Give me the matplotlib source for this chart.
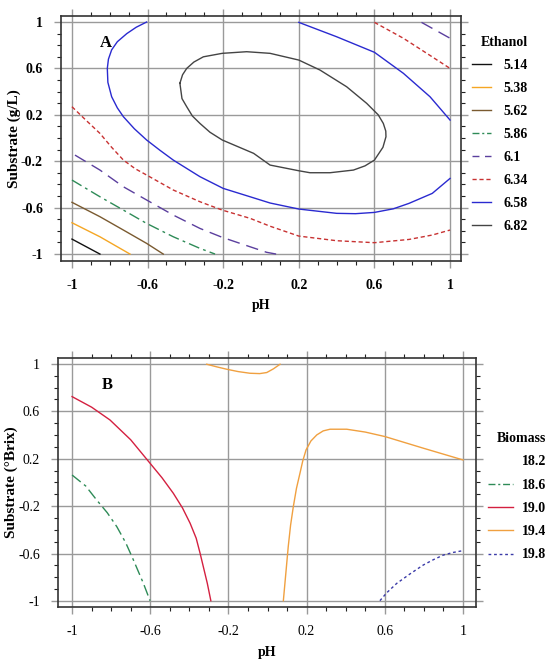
import matplotlib
matplotlib.use("Agg")
import matplotlib.pyplot as plt
from matplotlib.lines import Line2D
from matplotlib.ticker import MultipleLocator, FixedLocator

plt.rcParams['font.family'] = ['Liberation Serif', 'DejaVu Serif']

# ---------------- Data: Panel A (Ethanol) ----------------
eth_levels = ['5.14', '5.38', '5.62', '5.86', '6.1', '6.34', '6.58', '6.82']

a514_x = [-1.0, -0.852]
a514_y = [-0.871, -1.0]
a538_x = [-1.0, -0.852, -0.693]
a538_y = [-0.73, -0.851, -1.0]
a562_x = [-1.0, -0.852, -0.728, -0.605, -0.517]
a562_y = [-0.554, -0.678, -0.793, -0.908, -1.0]
a586_x = [-1.0, -0.852, -0.728, -0.605, -0.464, -0.323, -0.243]
a586_y = [-0.362, -0.506, -0.621, -0.736, -0.851, -0.951, -1.0]
a610_x = [-0.984, -0.852, -0.728, -0.605, -0.464, -0.323, -0.205, -0.058, 0.03, 0.08]
a610_y = [-0.147, -0.276, -0.42, -0.534, -0.664, -0.779, -0.856, -0.937, -0.985, -1.0]
a610b_x = [0.849, 1.0]
a610b_y = [0.997, 0.86]
a634_x = [-1.0, -0.93, -0.852, -0.79, -0.728, -0.665, -0.605, -0.464, -0.323, -0.205, -0.058, 0.048, 0.2, 0.4,
          0.6, 0.783, 0.906, 1.0]
a634_y = [0.27, 0.16, 0.04, -0.08, -0.19, -0.265, -0.319, -0.448, -0.549, -0.621, -0.692, -0.76, -0.845, -0.885,
          -0.902, -0.874, -0.836, -0.793]
a634b_x = [0.6, 0.753, 0.877, 1.0]
a634b_y = [0.997, 0.86, 0.73, 0.6]
a658_x = [-0.605, -0.66, -0.71, -0.76, -0.79, -0.807, -0.813, -0.81, -0.79, -0.76, -0.728, -0.67, -0.605,
          -0.535, -0.464, -0.323, -0.2, -0.058, 0.048, 0.2, 0.4, 0.5, 0.6, 0.7, 0.783, 0.906, 1.0]
a658_y = [1.0, 0.955, 0.9, 0.83, 0.76, 0.68, 0.6, 0.48, 0.356, 0.26, 0.184, 0.08, -0.017,
          -0.105, -0.19, -0.333, -0.434, -0.506, -0.56, -0.612, -0.649, -0.652, -0.641, -0.61, -0.563, -0.477, -0.348]
a658b_x = [0.2, 0.4, 0.6, 0.753, 0.894, 1.0]
a658b_y = [0.997, 0.873, 0.739, 0.558, 0.356, 0.155]
a682_x = [-0.429, -0.415, -0.393, -0.355, -0.305, -0.205, -0.076, 0.048, 0.2, 0.312, 0.453, 0.559, 0.62, 0.647,
          0.66, 0.661, 0.645, 0.6, 0.55, 0.489, 0.365, 0.259, 0.2, 0.048, -0.039, -0.205, -0.27, -0.323, -0.363,
          -0.393, -0.418, -0.429]
a682_y = [0.472, 0.545, 0.6, 0.655, 0.7, 0.73, 0.744, 0.73, 0.672, 0.586, 0.442, 0.299, 0.2, 0.126,
          0.06, 0.011, -0.08, -0.19, -0.24, -0.276, -0.299, -0.299, -0.282, -0.233, -0.132, -0.017, 0.05, 0.126,
          0.19, 0.27, 0.34, 0.472]

# ---------------- Data: Panel B (Biomass) ----------------
bio_levels = ['18.2', '18.6', '19.0', '19.4', '19.8']

b186_x = [-1.0, -0.93, -0.874, -0.82, -0.771, -0.725, -0.686, -0.635, -0.601]
b186_y = [0.063, -0.03, -0.148, -0.255, -0.373, -0.51, -0.654, -0.851, -0.997]
b190_x = [-1.0, -0.9, -0.806, -0.7, -0.601, -0.54, -0.482, -0.435, -0.396, -0.365, -0.345, -0.308, -0.29]
b190_y = [0.724, 0.635, 0.527, 0.36, 0.162, 0.04, -0.091, -0.215, -0.344, -0.47, -0.597, -0.851, -0.997]
b194_x = [0.081, 0.094, 0.106, 0.118, 0.132, 0.148, 0.166, 0.18, 0.197, 0.222, 0.252, 0.285, 0.32, 0.405,
          0.5, 0.601, 0.797, 1.0]
b194_y = [-0.997, -0.76, -0.541, -0.36, -0.204, -0.05, 0.078, 0.18, 0.274, 0.35, 0.401, 0.435, 0.449, 0.449,
          0.425, 0.387, 0.289, 0.19]
b194b_x = [-0.311, -0.26, -0.209, -0.15, -0.09, -0.04, -0.004, 0.03, 0.064]
b194b_y = [0.997, 0.975, 0.955, 0.935, 0.921, 0.918, 0.927, 0.958, 0.997]
b198_x = [0.575, 0.61, 0.661, 0.73, 0.797, 0.85, 0.9, 0.95, 1.0]
b198_y = [-0.997, -0.93, -0.851, -0.77, -0.696, -0.65, -0.612, -0.59, -0.575]

ticks = [-1, -0.6, -0.2, 0.2, 0.6, 1]
tick_labels = ['-1', '-0.6', '-0.2', '0.2', '0.6', '1']

# ---------------- Figure ----------------
fig = plt.figure(figsize=(5.47, 6.63), dpi=100)
axA = fig.add_axes([0.1115, 0.6063, 0.7313, 0.3696])
axB = fig.add_axes([0.106, 0.0845, 0.764, 0.3756])

def style_axes(ax, xlim, ylim, bold):
    ax.set_xlim(*xlim)
    ax.set_ylim(*ylim)
    ax.xaxis.set_major_locator(FixedLocator(ticks))
    ax.yaxis.set_major_locator(FixedLocator(ticks))
    ax.xaxis.set_minor_locator(MultipleLocator(0.1))
    ax.yaxis.set_minor_locator(MultipleLocator(0.1))
    ax.set_xticklabels(tick_labels)
    ax.set_yticklabels(tick_labels)
    ax.grid(True, which='major', color='#9a9a9a', lw=1.0)
    ax.set_axisbelow(True)
    ax.tick_params(which='major', direction='out', length=5, width=1.0, color='#9a9a9a',
                   top=True, right=True, labelsize=10, pad=8)
    ax.tick_params(which='minor', direction='out', length=3, width=0.8, color='#222222',
                   top=True, right=True)
    for lab in ax.get_xticklabels() + ax.get_yticklabels():
        lab.set_fontweight('bold' if bold else 'normal')
    for s in ax.spines.values():
        s.set_color('#333333')
        s.set_linewidth(1.2)

style_axes(axA, (-1.058, 1.058), (-1.06, 1.052), True)
style_axes(axB, (-1.072, 1.066), (-1.05, 1.05), False)

# Panel A lines
c514 = '#111111'; c538 = '#f5a623'; c562 = '#7a5a30'; c586 = '#2e8b57'
c610 = '#5b3f9e'; c634 = '#c83232'; c658 = '#2a2ad0'; c682 = '#444444'
lw = 1.0
axA.plot(a514_x, a514_y, color=c514, lw=lw)
axA.plot(a538_x, a538_y, color=c538, lw=lw)
axA.plot(a562_x, a562_y, color=c562, lw=lw)
axA.plot(a586_x, a586_y, color=c586, lw=lw, dashes=(8, 3, 2, 3))
axA.plot(a610_x, a610_y, color=c610, lw=lw, dashes=(9, 5))
axA.plot(a610b_x, a610b_y, color=c610, lw=lw, dashes=(9, 5))
axA.plot(a634_x, a634_y, color=c634, lw=lw, dashes=(3, 2))
axA.plot(a634b_x, a634b_y, color=c634, lw=lw, dashes=(3, 2))
axA.plot(a658_x, a658_y, color=c658, lw=lw)
axA.plot(a658b_x, a658b_y, color=c658, lw=lw)
axA.plot(a682_x, a682_y, color=c682, lw=lw)

hA = [Line2D([], [], color=c514, lw=lw),
      Line2D([], [], color=c538, lw=lw),
      Line2D([], [], color=c562, lw=lw),
      Line2D([], [], color=c586, lw=lw, dashes=(5, 2, 1.5, 2)),
      Line2D([], [], color=c610, lw=lw, dashes=(5, 4)),
      Line2D([], [], color=c634, lw=lw, dashes=(3, 2)),
      Line2D([], [], color=c658, lw=lw),
      Line2D([], [], color=c682, lw=lw)]
legA = fig.legend(hA, eth_levels, loc='upper left', bbox_to_anchor=(0.845, 0.96),
                  frameon=False, title='Ethanol', handlelength=1.4, handletextpad=0.9,
                  labelspacing=0.72, borderpad=0.2,
                  prop={'family': 'Liberation Serif', 'weight': 'bold', 'size': 10},
                  title_fontproperties={'family': 'Liberation Serif', 'weight': 'bold', 'size': 10})
legA._legend_box.align = 'right'

axA.text(-0.82, 0.82, 'A', fontsize=12, fontweight='bold', ha='center', va='center')
axA.set_xlabel('pH', fontsize=10, fontweight='bold', labelpad=5)
axA.set_ylabel('Substrate (g/L)', fontsize=11, fontweight='bold')
axA.yaxis.set_label_coords(-0.1, 0.5)

# Panel B lines
d186 = '#2e8b57'; d190 = '#d42040'; d194 = '#f0a040'; d198 = '#3a3aa8'
axB.plot(b186_x, b186_y, color=d186, lw=lw, dashes=(8, 3, 2, 3))
axB.plot(b190_x, b190_y, color=d190, lw=lw)
axB.plot(b194_x, b194_y, color=d194, lw=lw)
axB.plot(b194b_x, b194b_y, color=d194, lw=lw)
axB.plot(b198_x, b198_y, color=d198, lw=lw, dashes=(2, 2))

hB = [Line2D([], [], color='white', lw=lw),
      Line2D([], [], color=d186, lw=lw, dashes=(5, 2, 1.5, 2)),
      Line2D([], [], color=d190, lw=lw),
      Line2D([], [], color=d194, lw=lw),
      Line2D([], [], color=d198, lw=lw, dashes=(2, 2))]
legB = fig.legend(hB, bio_levels, loc='upper left', bbox_to_anchor=(0.875, 0.363),
                  frameon=False, title='Biomass', handlelength=1.8, handletextpad=0.6,
                  labelspacing=0.74, borderpad=0.2,
                  prop={'family': 'Liberation Serif', 'weight': 'bold', 'size': 10},
                  title_fontproperties={'family': 'Liberation Serif', 'weight': 'bold', 'size': 10})
legB._legend_box.align = 'right'

axB.text(-0.82, 0.82, 'B', fontsize=12, fontweight='bold', ha='center', va='center')
axB.set_xlabel('pH', fontsize=10, fontweight='bold', labelpad=6)
axB.set_ylabel('Substrate (°Brix)', fontsize=11, fontweight='bold')
axB.yaxis.set_label_coords(-0.095, 0.5)

fig.savefig('out.png', dpi=100)
